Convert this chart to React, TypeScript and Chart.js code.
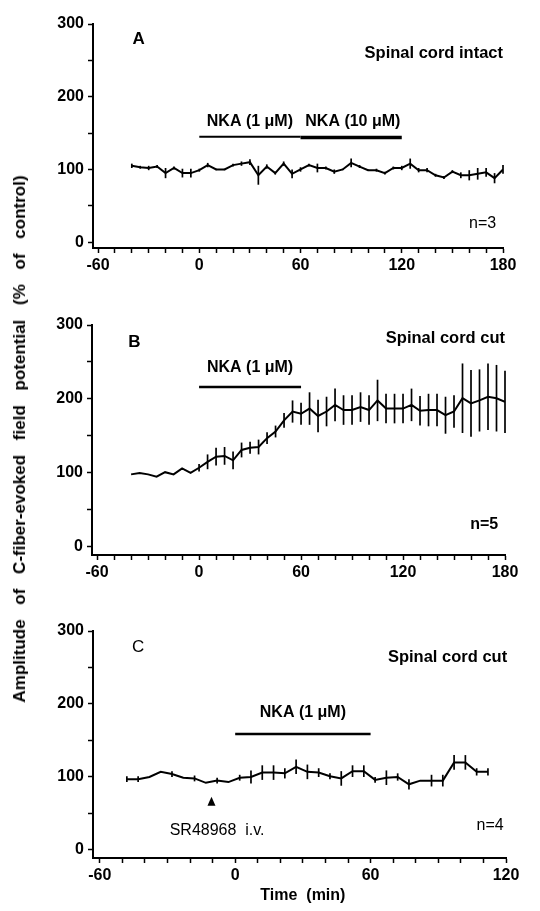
import React, { useEffect, useRef } from 'react';
import { Chart, registerables } from 'chart.js';
Chart.register(...registerables);

const FONT = '"Liberation Sans", Arial, Helvetica, sans-serif';

// ---------- Data ----------
const timeA = [-40, -35, -30, -25, -20, -15, -10, -5, 0, 5, 10, 15, 20, 25, 30, 35, 40, 45, 50, 55, 60, 65, 70, 75, 80, 85, 90, 95, 100, 105, 110, 115, 120, 125, 130, 135, 140, 145, 150, 155, 160, 165, 170, 175, 180];
const meanA = [105, 103, 102, 104, 95, 102, 95, 95, 99, 106, 100, 100, 106, 108, 110, 92, 104, 95, 108, 94, 100, 106, 102, 102, 97, 100, 109, 104, 99, 99, 95, 102, 102, 108, 99, 99, 92, 89, 97, 92, 92, 94, 96, 88, 100];
const errA = [3, 2, 3, 2, 7, 2, 6, 6, 2, 3, 1, 1, 2, 3, 4, 13, 3, 2, 3, 6, 3, 2, 6, 2, 3, 1, 6, 2, 1, 2, 2, 2, 3, 7, 3, 3, 2, 2, 2, 4, 7, 8, 6, 7, 6];

const timeB = [-40, -35, -30, -25, -20, -15, -10, -5, 0, 5, 10, 15, 20, 25, 30, 35, 40, 45, 50, 55, 60, 65, 70, 75, 80, 85, 90, 95, 100, 105, 110, 115, 120, 125, 130, 135, 140, 145, 150, 155, 160, 165, 170, 175, 180];
const meanB = [98, 100, 98, 95, 101, 98, 106, 100, 107, 115, 122, 123, 117, 131, 134, 135, 147, 156, 171, 183, 180, 187, 177, 183, 192, 185, 185, 189, 185, 198, 187, 187, 187, 192, 184, 185, 185, 178, 183, 201, 194, 198, 203, 201, 196];
const errB = [0, 0, 0, 0, 0, 0, 0, 0, 5, 10, 12, 12, 12, 10, 8, 10, 8, 8, 10, 15, 15, 22, 22, 20, 22, 20, 20, 20, 20, 28, 20, 20, 20, 22, 20, 22, 22, 25, 22, 47, 45, 42, 45, 45, 42];

const timeC = [-48, -43, -38, -33, -28, -23, -18, -13, -8, -3, 2, 7, 12, 17, 22, 27, 32, 37, 42, 47, 52, 57, 62, 67, 72, 77, 82, 87, 92, 97, 102, 107, 112];
const meanC = [97, 97, 100, 107, 104, 99, 98, 92, 95, 93, 99, 100, 106, 106, 105, 114, 107, 106, 101, 98, 108, 108, 96, 99, 100, 90, 95, 95, 95, 120, 120, 107, 107];
const errC = [4, 4, 0, 0, 4, 0, 4, 0, 4, 0, 4, 9, 10, 10, 7, 10, 10, 6, 4, 10, 8, 8, 4, 10, 5, 7, 0, 8, 8, 10, 10, 5, 5];

const yTickValues = [0, 50, 100, 150, 200, 250, 300];
const yTickLabels = [0, 100, 200, 300];
const xTicksAB = [-60, -50, -40, -30, -20, -10, 0, 10, 20, 30, 40, 50, 60, 70, 80, 90, 100, 110, 120, 130, 140, 150, 160, 170, 180];
const xLabelsAB = [-60, 0, 60, 120, 180];
const xTicksC = [-60, -50, -40, -30, -20, -10, 0, 10, 20, 30, 40, 50, 60, 70, 80, 90, 100, 110, 120];
const xLabelsC = [-60, 0, 60, 120];

type Txt = { text: string; x: number; y: number; align?: CanvasTextAlign; size?: number; weight?: string };
type Bar = { x0: number; x1: number; y: number; w: number };
type Panel = {
  times: number[]; means: number[]; errs: number[];
  xMin: number; xMax: number; yMin: number;
  xTicks: number[]; xLabels: number[];
  texts: Txt[]; bars: Bar[]; triangle?: { x: number; y: number };
  height: number; padTop: number; padRight: number; xHeight: number; yWidth: number;
};

const panels: { top: number; p: Panel }[] = [
  {
    top: 0,
    p: {
      times: timeA, means: meanA, errs: errA, xMin: -63, xMax: 180, yMin: -8,
      xTicks: xTicksAB, xLabels: xLabelsAB,
      texts: [
        { text: 'A', x: -36, y: 279, align: 'center', size: 17 },
        { text: 'Spinal cord intact', x: 180, y: 260, align: 'right', size: 16.5 },
        { text: 'NKA (1 \u03bcM)', x: 30, y: 166, align: 'center', size: 16 },
        { text: 'NKA (10 \u03bcM)', x: 91, y: 166, align: 'center', size: 16 },
        { text: 'n=3', x: 176, y: 25, align: 'right', size: 16, weight: 'normal' },
      ],
      bars: [{ x0: 0, x1: 60, y: 145, w: 2 }, { x0: 60, x1: 120, y: 144, w: 3.5 }],
      height: 290, padTop: 24, padRight: 37, xHeight: 42, yWidth: 93,
    },
  },
  {
    top: 290,
    p: {
      times: timeB, means: meanB, errs: errB, xMin: -63, xMax: 180, yMin: -11,
      xTicks: xTicksAB, xLabels: xLabelsAB,
      texts: [
        { text: 'B', x: -38, y: 277, align: 'center', size: 17 },
        { text: 'Spinal cord cut', x: 180, y: 282, align: 'right', size: 16.5 },
        { text: 'NKA (1 \u03bcM)', x: 30, y: 242, align: 'center', size: 16 },
        { text: 'n=5', x: 176, y: 30, align: 'right', size: 16 },
      ],
      bars: [{ x0: 0, x1: 60, y: 216, w: 2.5 }],
      height: 300, padTop: 35, padRight: 35, xHeight: 35, yWidth: 92,
    },
  },
  {
    top: 590,
    p: {
      times: timeC, means: meanC, errs: errC, xMin: -63, xMax: 120, yMin: -11,
      xTicks: xTicksC, xLabels: xLabelsC,
      texts: [
        { text: 'C', x: -43, y: 278, align: 'center', size: 17, weight: 'normal' },
        { text: 'Spinal cord cut', x: 120.5, y: 264, align: 'right', size: 16.5 },
        { text: 'NKA (1 \u03bcM)', x: 30, y: 188, align: 'center', size: 16 },
        { text: 'n=4', x: 119, y: 34, align: 'right', size: 16, weight: 'normal' },
        { text: 'SR48968  i.v.', x: -8, y: 27, align: 'center', size: 16, weight: 'normal' },
        { text: 'Time  (min)', x: 30, y: -63, align: 'center', size: 16 },
      ],
      bars: [{ x0: 0, x1: 60, y: 159, w: 2.5 }],
      triangle: { x: -10.5, y: 66 },
      height: 321, padTop: 41, padRight: 34, xHeight: 53, yWidth: 93,
    },
  },
];

function makeOverlay(p: Panel) {
  return {
    id: 'overlay',
    afterDatasetsDraw(chart: any) {
      const { ctx } = chart;
      const xs = chart.scales.x;
      const ys = chart.scales.y;
      ctx.save();
      ctx.strokeStyle = '#000';
      ctx.fillStyle = '#000';
      ctx.lineWidth = 1.7;
      p.times.forEach((t, i) => {
        const e = p.errs[i];
        const px = xs.getPixelForValue(t);
        if (e > 0) {
          ctx.beginPath();
          ctx.moveTo(px, ys.getPixelForValue(p.means[i] - e));
          ctx.lineTo(px, ys.getPixelForValue(p.means[i] + e));
          ctx.stroke();
        }
      });
      p.bars.forEach((b) => {
        ctx.lineWidth = b.w;
        ctx.beginPath();
        const yy = ys.getPixelForValue(b.y);
        ctx.moveTo(xs.getPixelForValue(b.x0), yy);
        ctx.lineTo(xs.getPixelForValue(b.x1), yy);
        ctx.stroke();
      });
      if (p.triangle) {
        const tx = xs.getPixelForValue(p.triangle.x);
        const ty = ys.getPixelForValue(p.triangle.y);
        ctx.beginPath();
        ctx.moveTo(tx, ty - 5);
        ctx.lineTo(tx + 4, ty + 4);
        ctx.lineTo(tx - 4, ty + 4);
        ctx.closePath();
        ctx.fill();
      }
      ctx.textBaseline = 'middle';
      p.texts.forEach((t) => {
        ctx.font = `${t.weight || 'bold'} ${t.size || 15}px ${FONT}`;
        ctx.textAlign = t.align || 'left';
        ctx.fillText(t.text, xs.getPixelForValue(t.x), ys.getPixelForValue(t.y));
      });
      ctx.restore();
    },
  };
}

function PanelChart({ p, top }: { p: Panel; top: number }) {
  const ref = useRef<HTMLCanvasElement | null>(null);
  useEffect(() => {
    if (!ref.current) return;
    const tickFont = { family: FONT, size: 16, weight: 'bold' as const };
    const chart = new Chart(ref.current, {
      type: 'line',
      data: {
        datasets: [
          {
            data: p.times.map((t, i) => ({ x: t, y: p.means[i] })),
            borderColor: '#000',
            borderWidth: 2,
            pointRadius: 0,
            tension: 0,
            fill: false,
          },
        ],
      },
      options: {
        responsive: false,
        animation: false,
        devicePixelRatio: 1,
        layout: { padding: { top: p.padTop, right: p.padRight, left: 0, bottom: 0 } },
        plugins: { legend: { display: false }, tooltip: { enabled: false }, title: { display: false } },
        scales: {
          x: {
            type: 'linear',
            min: p.xMin,
            max: p.xMax,
            afterBuildTicks: (s: any) => { s.ticks = p.xTicks.map((v) => ({ value: v })); },
            afterFit: (s: any) => { s.height = p.xHeight; },
            ticks: {
              autoSkip: false, maxRotation: 0, minRotation: 0, padding: 3, color: '#000', font: tickFont,
              callback: (v: any) => (p.xLabels.includes(Number(v)) ? String(v) : ''),
            },
            grid: { display: true, drawOnChartArea: false, drawTicks: true, tickLength: 5, tickColor: '#000', tickWidth: 1.5 },
            border: { display: true, color: '#000', width: 2 },
          },
          y: {
            type: 'linear',
            min: p.yMin,
            max: 300,
            afterBuildTicks: (s: any) => { s.ticks = yTickValues.map((v) => ({ value: v })); },
            afterFit: (s: any) => { s.width = p.yWidth; },
            ticks: {
              autoSkip: false, padding: 4, color: '#000', font: tickFont,
              callback: (v: any) => (yTickLabels.includes(Number(v)) ? String(v) : ''),
            },
            grid: { display: true, drawOnChartArea: false, drawTicks: true, tickLength: 5, tickColor: '#000', tickWidth: 1.5 },
            border: { display: true, color: '#000', width: 2 },
          },
        },
      },
      plugins: [makeOverlay(p)],
    } as any);
    return () => chart.destroy();
  }, [p]);
  return (
    <canvas
      ref={ref}
      width={540}
      height={p.height}
      style={{ position: 'absolute', left: 0, top, width: 540, height: p.height }}
    />
  );
}

export default function App() {
  return (
    <div style={{ position: 'absolute', left: 0, top: 0, width: 540, height: 911, background: '#fff', overflow: 'hidden' }}>
      {panels.map((pp, i) => (
        <PanelChart key={i} p={pp.p} top={pp.top} />
      ))}
      <div
        style={{
          position: 'absolute',
          left: 20,
          top: 439,
          transform: 'translate(-50%, -50%) rotate(-90deg)',
          whiteSpace: 'nowrap',
          fontFamily: FONT,
          fontWeight: 'bold',
          fontSize: 17,
          wordSpacing: 10,
          color: '#000',
        }}
      >
        Amplitude of C-fiber-evoked field potential (% of control)
      </div>
    </div>
  );
}
